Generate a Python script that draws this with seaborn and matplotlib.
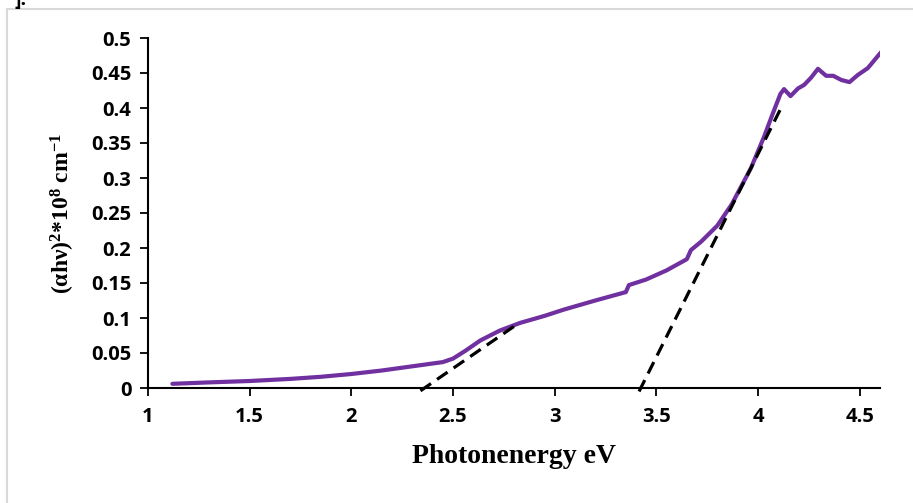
import numpy as np
import pandas as pd
import matplotlib
matplotlib.use("Agg")
import matplotlib.pyplot as plt
import seaborn as sns
from matplotlib.lines import Line2D

# ---- data ----
energy = [1.12, 1.3, 1.5, 1.7, 1.85, 2.0, 2.15, 2.3, 2.45, 2.5, 2.56, 2.635, 2.73, 2.83,
          2.95, 3.045, 3.2, 3.35, 3.365, 3.45, 3.55, 3.65, 3.67, 3.72, 3.8, 3.87,
          3.965, 4.03, 4.07, 4.11, 4.128, 4.16, 4.197, 4.227, 4.26, 4.295, 4.335,
          4.37, 4.41, 4.45, 4.49, 4.54, 4.606]
absorb = [0.006, 0.008, 0.010, 0.013, 0.016, 0.020, 0.025, 0.031, 0.037, 0.042, 0.053,
          0.068, 0.082, 0.093, 0.103, 0.112, 0.125, 0.137, 0.147, 0.155, 0.168, 0.184,
          0.197, 0.209, 0.232, 0.262, 0.314, 0.359, 0.390, 0.420, 0.427, 0.417,
          0.428, 0.433, 0.443, 0.456, 0.446, 0.446, 0.440, 0.437, 0.447, 0.457, 0.48]

fit1_x = [2.34, 2.82]
fit1_y = [-0.004, 0.092]
fit2_x = [3.415, 4.115]
fit2_y = [-0.005, 0.401]

xticks = [1, 1.5, 2, 2.5, 3, 3.5, 4, 4.5]
xticklabels = ["1", "1.5", "2", "2.5", "3", "3.5", "4", "4.5"]
yticks = [0, 0.05, 0.1, 0.15, 0.2, 0.25, 0.3, 0.35, 0.4, 0.45, 0.5]
yticklabels = ["0", "0.05", "0.1", "0.15", "0.2", "0.25", "0.3", "0.35", "0.4", "0.45", "0.5"]

sns.set_theme(style="white")
plt.rcParams["font.family"] = ["Open Sans", "DejaVu Sans"]
plt.rcParams["mathtext.fontset"] = "custom"
plt.rcParams["mathtext.rm"] = "Liberation Serif:bold"
plt.rcParams["mathtext.bf"] = "Liberation Serif:bold"
plt.rcParams["mathtext.it"] = "Liberation Serif:bold"
plt.rcParams["mathtext.default"] = "bf"

fig = plt.figure(figsize=(9.13, 5.03), dpi=100)
ax = fig.add_axes([148/913, 1-388/503, (880-148)/913, (388-38)/503])

df = pd.DataFrame({"E": energy, "A": absorb})
sns.lineplot(data=df, x="E", y="A", ax=ax, color="#7030A0", linewidth=3.0,
             sort=False, zorder=3)
ax.plot(fit1_x, fit1_y, color="black", linestyle=(0, (4, 2.3)), linewidth=2.3,
        clip_on=False, zorder=4)
ax.plot(fit2_x, fit2_y, color="black", linestyle=(0, (4, 2.3)), linewidth=2.3,
        clip_on=False, zorder=4)

ax.set_xlim(1, 4.6)
ax.set_ylim(0, 0.5)
ax.set_xticks(xticks)
ax.set_xticklabels(xticklabels)
ax.set_yticks(yticks)
ax.set_yticklabels(yticklabels)
for lab in ax.get_xticklabels() + ax.get_yticklabels():
    lab.set_fontweight("bold")
    lab.set_fontsize(14.5)
    lab.set_color("black")

ax.tick_params(axis="both", direction="out", length=6, width=1.3, color="black",
               bottom=True, left=True, pad=6)
ax.tick_params(axis="x", pad=8)
for s in ["top", "right"]:
    ax.spines[s].set_visible(False)
for s in ["left", "bottom"]:
    ax.spines[s].set_color("black")
    ax.spines[s].set_linewidth(1.5)

ax.set_xlabel("Photonenergy eV", family="Liberation Serif", fontweight="bold",
              fontsize=20, color="black", labelpad=12)
ax.set_ylabel(r"(αhν)$^{2}$*10$^{8}$ cm$^{-1}$", family="Liberation Serif",
              fontweight="bold", fontsize=17, color="black", labelpad=10)

# figure frame lines
fig.add_artist(Line2D([7/913, 7/913], [0, 1-9/503], color="#d9d9d9", linewidth=1.5))
fig.add_artist(Line2D([7/913, 1], [1-9/503, 1-9/503], color="#d9d9d9", linewidth=1.5))
fig.text(14/913, 1.0, "].", fontsize=14, fontweight="bold", va="center", color="black")

fig.savefig("out.png", dpi=100)
